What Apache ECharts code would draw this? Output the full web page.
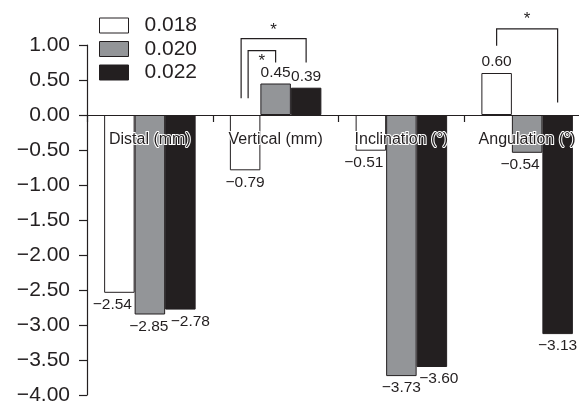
<!DOCTYPE html>
<html>
<head>
<meta charset="utf-8">
<script src="https://cdn.jsdelivr.net/npm/echarts@6/dist/echarts.min.js"></script>
<style>
html,body{margin:0;padding:0;background:#fff;}
#chart{width:579px;height:403px;}
</style>
</head>
<body>
<div id="chart"></div>
<script>
// ---- data ----
const categories = ['Distal (mm)', 'Vertical (mm)', 'Inclination (°)', 'Angulation (°)'];
const seriesNames = ['0.018', '0.020', '0.022'];
const values018 = [-2.54, -0.79, -0.51, 0.60];
const values020 = [-2.85, 0.45, -3.73, -0.54];
const values022 = [-2.78, 0.39, -3.60, -3.13];
const yTicks = { min: -4, max: 1, interval: 0.5 };
// significance brackets: [category, fromSeries, toSeries, leftBottom, top, rightBottom, starValue]
const brackets = [
  [1, 0, 2, 0.24, 1.09, 0.75, 1.21],
  [1, 0, 1, 0.24, 0.92, 0.75, 0.76],
  [3, 0, 2, 0.99, 1.23, 0.18, 1.36]
];

// ---- styles ----
const INK = '#231f20';
const FONT = "'Liberation Sans', Arial, Helvetica, sans-serif";
const BAR_W = 30.5;
const fills = ['#ffffff', '#939598', '#231f20'];
const labelNudge = [
  [-7, 0, -7, 0],
  [-1, 0, 0, -7],
  [10, 0, 7, 0]
];
const bracketNudge = [[-4, 0], [3, 0], [0, 0]];
const GRID = { left: 87, right: -11, top: 45, bottom: 8 };
const H = 403;
// pixel distance from grid top to the zero line (used to place category labels on the zero line)
const zeroFromTop = (H - GRID.top - GRID.bottom) * (yTicks.max - 0) / (yTicks.max - yTicks.min);

function fmt(v) {
  const s = Math.abs(v).toFixed(2);
  return v < 0 ? '\u2212' + s : s;
}

const allValues = [values018, values020, values022];
const barSeries = allValues.map((vals, si) => ({
  name: seriesNames[si],
  type: 'bar',
  barWidth: BAR_W,
  barGap: '0%',
  z: 2,
  itemStyle: { color: fills[si], borderColor: INK, borderWidth: 1 },
  data: vals.map((v, ci) => ({
    value: v,
    label: { offset: [labelNudge[si][ci], 0], distance: v >= 0 ? 3 : 4 }
  })),
  label: {
    show: true,
    position: 'outside',
    color: INK,
    fontFamily: FONT,
    fontSize: 15.5,
    formatter: p => fmt(p.value)
  }
}));

const bracketSeries = {
  type: 'custom',
  z: 5,
  silent: true,
  clip: false,
  data: brackets,
  renderItem: function (params, api) {
    const i = params.dataIndex;
    const cat = api.value(0);
    const s1 = api.value(1), s2 = api.value(2);
    const pL = api.coord([cat, api.value(3)]);
    const pT = api.coord([cat, api.value(4)]);
    const pR = api.coord([cat, api.value(5)]);
    const pS = api.coord([cat, api.value(6)]);
    const xL = pL[0] + (s1 - 1) * BAR_W + bracketNudge[i][0];
    const xR = pR[0] + (s2 - 1) * BAR_W + bracketNudge[i][1];
    return {
      type: 'group',
      children: [
        {
          type: 'polyline',
          shape: { points: [[xL, pL[1]], [xL, pT[1]], [xR, pT[1]], [xR, pR[1]]] },
          style: { stroke: INK, lineWidth: 1.2, fill: null }
        },
        {
          type: 'text',
          x: (xL + xR) / 2,
          y: pS[1],
          style: {
            text: '*', fill: INK, fontFamily: FONT, fontSize: 17,
            align: 'center', verticalAlign: 'middle'
          }
        }
      ]
    };
  }
};

const chart = echarts.init(document.getElementById('chart'), null, { renderer: 'canvas' });
chart.setOption({
  animation: false,
  backgroundColor: '#fff',
  textStyle: { fontFamily: FONT },
  legend: {
    data: seriesNames,
    orient: 'vertical',
    left: 99,
    top: 15,
    padding: 0,
    itemWidth: 29,
    itemHeight: 15,
    itemGap: 2.5,
    icon: 'rect',
    itemStyle: { borderColor: INK, borderWidth: 1 },
    textStyle: { fontSize: 21, color: INK, fontFamily: FONT, padding: [0, 0, 0, 11] },
    selectedMode: false
  },
  grid: Object.assign({ containLabel: false, outerBoundsMode: 'none' }, GRID),
  xAxis: [
    {
      type: 'category',
      data: categories,
      z: 10,
      axisLine: { onZero: true, lineStyle: { color: INK, width: 1.2 } },
      axisTick: { show: true, length: 7, inside: false, lineStyle: { color: INK, width: 1.2 } },
      axisLabel: { show: false },
      splitLine: { show: false }
    },
    {
      type: 'category',
      data: categories,
      position: 'top',
      offset: -zeroFromTop,
      z: 10,
      axisLine: { show: false },
      axisTick: { show: false },
      axisLabel: {
        inside: true,
        margin: 17,
        fontSize: 16,
        color: INK,
        fontFamily: FONT,
        textBorderColor: '#ffffff',
        textBorderWidth: 2,
        interval: 0
      },
      splitLine: { show: false }
    }
  ],
  yAxis: {
    type: 'value',
    min: yTicks.min,
    max: yTicks.max,
    interval: yTicks.interval,
    axisLine: { show: true, lineStyle: { color: INK, width: 1.2 } },
    axisTick: { show: true, length: 8, lineStyle: { color: INK, width: 1.2 } },
    axisLabel: { fontSize: 21, color: INK, fontFamily: FONT, margin: 17, formatter: v => fmt(v) },
    splitLine: { show: false }
  },
  series: [...barSeries, bracketSeries]
});
</script>
</body>
</html>
